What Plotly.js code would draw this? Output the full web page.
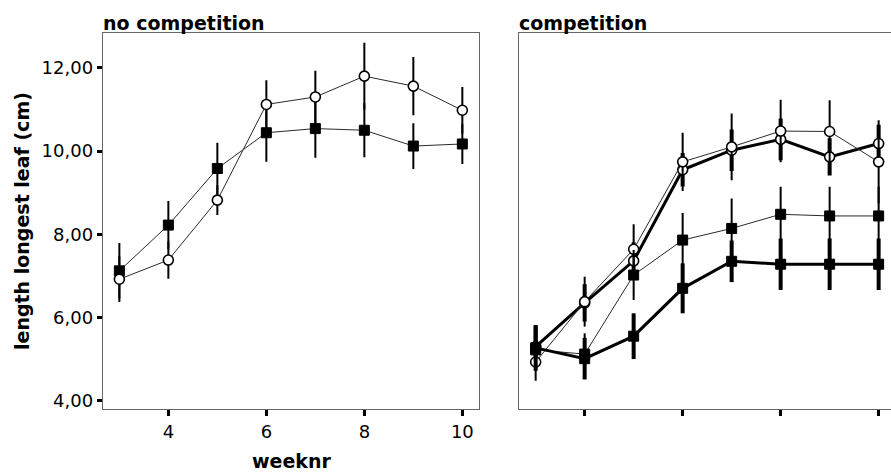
<!DOCTYPE html>
<html>
<head>
<meta charset="utf-8">
<script src="https://cdn.plot.ly/plotly-3.0.1.min.js"></script>
<style>
  html, body { margin: 0; padding: 0; overflow: hidden; background: #fff; }
  #chart { width: 900px; height: 475px; }
</style>
</head>
<body>
<div id="chart"></div>
<script>
// Week numbers shared by both panels
const weeks = [3, 4, 5, 6, 7, 8, 9, 10];

// No competition: mean length of longest leaf (cm) and error-bar half widths
const noCompOpen = [6.92, 7.38, 8.82, 11.12, 11.30, 11.80, 11.56, 10.98];
const noCompOpenErr = [0.55, 0.45, 0.36, 0.58, 0.63, 0.80, 0.70, 0.56];
const noCompFilled = [7.12, 8.22, 9.58, 10.44, 10.54, 10.50, 10.12, 10.17];
const noCompFilledErr = [0.67, 0.58, 0.62, 0.70, 0.70, 0.65, 0.55, 0.48];

// Competition: four groups (open/filled markers, thin/heavy lines)
const compOpenThin = [4.93, 6.38, 7.64, 9.74, 10.10, 10.48, 10.47, 9.74];
const compOpenThinErr = [0.45, 0.60, 0.60, 0.70, 0.80, 0.75, 0.75, 1.00];
const compOpenHeavy = [5.30, 6.35, 7.36, 9.55, 10.02, 10.28, 9.86, 10.18];
const compOpenHeavyErr = [0.50, 0.45, 0.45, 0.40, 0.50, 0.50, 0.45, 0.45];
const compFilledThin = [5.22, 5.12, 7.02, 7.86, 8.14, 8.48, 8.44, 8.44];
const compFilledThinErr = [0.50, 0.50, 0.60, 0.65, 0.72, 0.66, 0.70, 0.70];
const compFilledHeavy = [5.27, 5.01, 5.55, 6.70, 7.35, 7.28, 7.28, 7.28];
const compFilledHeavyErr = [0.55, 0.50, 0.55, 0.60, 0.50, 0.62, 0.62, 0.62];

// Axis tick labels
const yTickVals = [4, 6, 8, 10, 12];
const yTickText = ['4,00', '6,00', '8,00', '10,00', '12,00'];
const xTickVals = [4, 6, 8, 10];
const xTickText = ['4', '6', '8', '10'];

const W = 900, H = 475;
const FONT = 'DejaVu Sans';

function series(x, y, err, opts) {
  return {
    type: 'scatter', mode: 'lines+markers',
    x: x, y: y,
    xaxis: opts.xaxis, yaxis: opts.yaxis,
    line: { color: opts.lineColor || '#2a2a2a', width: opts.lineWidth },
    marker: opts.open
      ? { symbol: 'circle', size: 10, color: '#fff', line: { color: '#000', width: 1.6 } }
      : { symbol: 'square', size: 10, color: '#000', line: { color: '#000', width: 1 } },
    error_y: { type: 'data', array: err, visible: true, color: '#000',
               thickness: opts.errWidth, width: 0 },
    showlegend: false, hoverinfo: 'x+y'
  };
}

const traces = [
  series(weeks, noCompFilled, noCompFilledErr, { xaxis: 'x', yaxis: 'y', lineWidth: 1, errWidth: 2, open: false }),
  series(weeks, noCompOpen, noCompOpenErr, { xaxis: 'x', yaxis: 'y', lineWidth: 1, errWidth: 2, open: true }),

  series(weeks, compOpenHeavy, compOpenHeavyErr, { xaxis: 'x2', yaxis: 'y2', lineWidth: 3, errWidth: 4, open: true, lineColor: '#000' }),
  series(weeks, compOpenThin, compOpenThinErr, { xaxis: 'x2', yaxis: 'y2', lineWidth: 1, errWidth: 2, open: true }),
  series(weeks, compFilledThin, compFilledThinErr, { xaxis: 'x2', yaxis: 'y2', lineWidth: 1, errWidth: 2, open: false }),
  series(weeks, compFilledHeavy, compFilledHeavyErr, { xaxis: 'x2', yaxis: 'y2', lineWidth: 3, errWidth: 4, open: false, lineColor: '#000' })
];

const yDom = [1 - 409 / H, 1 - 33.3 / H];
const frame = { showline: true, linecolor: '#666', linewidth: 1, mirror: true,
                showgrid: false, zeroline: false, fixedrange: true };

const layout = {
  width: W, height: H,
  margin: { l: 0, r: 0, t: 0, b: 0 },
  paper_bgcolor: '#fff', plot_bgcolor: '#fff',
  font: { family: FONT, color: '#000' },
  xaxis: Object.assign({}, frame, {
    domain: [102.7 / W, 479 / W], range: [2.66, 10.34], anchor: 'y',
    tickmode: 'array', tickvals: xTickVals, ticktext: xTickText,
    ticks: 'outside', ticklen: 6, tickwidth: 3, tickcolor: '#000',
    tickfont: { family: FONT, size: 18, color: '#000' }
  }),
  yaxis: Object.assign({}, frame, {
    domain: yDom, range: [3.80, 12.83], anchor: 'x',
    tickmode: 'array', tickvals: yTickVals, ticktext: yTickText,
    ticks: 'outside', ticklen: 5, tickwidth: 3, tickcolor: '#000',
    tickfont: { family: FONT, size: 18, color: '#000' }
  }),
  xaxis2: Object.assign({}, frame, {
    domain: [519 / W, 895.3 / W], range: [2.66, 10.34], anchor: 'y2',
    tickmode: 'array', tickvals: xTickVals,
    ticks: 'outside', ticklen: 6, tickwidth: 3, tickcolor: '#000',
    showticklabels: false
  }),
  yaxis2: Object.assign({}, frame, {
    domain: yDom, range: [3.80, 12.83], anchor: 'x2',
    showticklabels: false, ticks: ''
  }),
  annotations: [
    { text: 'no competition', xref: 'paper', yref: 'paper',
      x: 101 / W, y: 1 - 23 / H, xanchor: 'left', yanchor: 'middle', showarrow: false,
      font: { family: FONT, size: 19, weight: 'bold', color: '#000' } },
    { text: 'competition', xref: 'paper', yref: 'paper',
      x: 517 / W, y: 1 - 23 / H, xanchor: 'left', yanchor: 'middle', showarrow: false,
      font: { family: FONT, size: 19, weight: 'bold', color: '#000' } },
    { text: 'weeknr', xref: 'paper', yref: 'paper',
      x: 291 / W, y: 1 - 461 / H, xanchor: 'center', yanchor: 'middle', showarrow: false,
      borderpad: 0,
      font: { family: FONT, size: 19, weight: 'bold', color: '#000' } },
    { text: 'length longest leaf (cm)', xref: 'paper', yref: 'paper', textangle: -90,
      x: 22 / W, y: 1 - 221 / H, xanchor: 'center', yanchor: 'middle', showarrow: false,
      font: { family: FONT, size: 19, weight: 'bold', color: '#000' } }
  ]
};

Plotly.newPlot('chart', traces, layout, { staticPlot: true, displayModeBar: false });
</script>
</body>
</html>
